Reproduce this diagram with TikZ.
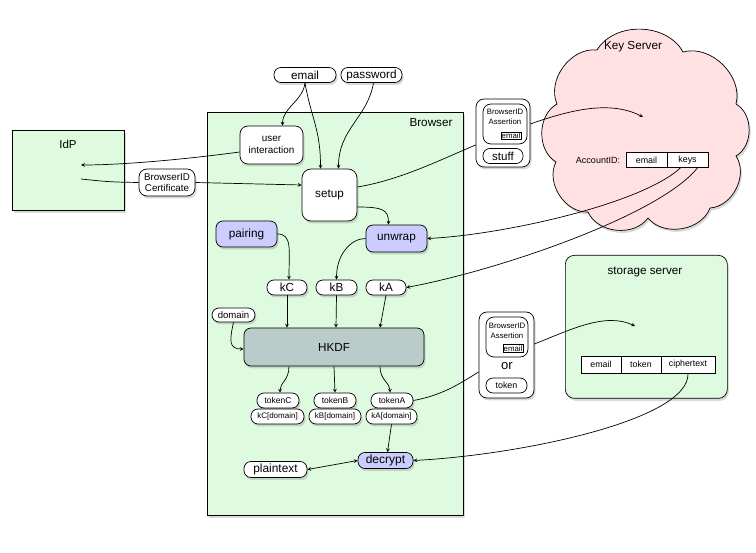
\documentclass[tikz,border=0pt]{standalone}
\usepackage{fontspec}
\setmainfont{Liberation Sans}
\usetikzlibrary{shadows}

\definecolor{zonegreen}{HTML}{DEFBE0}
\definecolor{keypink}{HTML}{FFE1E3}
\definecolor{oplav}{HTML}{CCCCFF}
\definecolor{hkdfgray}{HTML}{B9CCCA}

\newcommand\fsz[1]{\fontsize{#1}{#1}\selectfont}

\begin{document}
\begin{tikzpicture}[x=1pt, y=-1pt, >=stealth, line width=0.7pt,
    shade/.style={drop shadow={opacity=0.3, shadow xshift=1.5pt, shadow yshift=-2.5pt}},
    zone/.style={draw, fill=zonegreen, inner sep=0pt, anchor=north west, shade},
    pill/.style={draw, fill=white, rounded corners=7pt, minimum height=15pt, inner sep=0pt, shade},
    card/.style={draw, fill=white, rounded corners=8pt, inner sep=0pt, align=center, shade},
    op/.style={draw, fill=oplav, rounded corners=7pt, inner sep=0pt, shade},
    cell/.style={draw, fill=white, minimum height=15pt, inner sep=0pt},
    puff/.style={bend left=60}]
    \useasboundingbox (0,0) rectangle (756,553);

    % servers and browser
    \node[zone, minimum width=112pt, minimum height=80pt] (idp) at (12,130) {};
    \node[font=\fsz{11.5}] (idplbl) at (68,144) {IdP};
    \node[zone, minimum width=256pt, minimum height=403pt] (browser) at (207,112) {};
    \node[font=\fsz{11.7}] (browserlbl) at (431,123) {Browser};
    \node[zone, rounded corners=9pt, minimum width=162pt, minimum height=143pt] (storage) at (565,255) {};
    \node[font=\fsz{11.7}] (storagelbl) at (645,272) {storage server};

    % key server cloud
    \draw[fill=keypink, shade] (597,50) to[puff] (683,52) to[puff] (736,104) to[puff] (736,156)
        to[puff] (710,208) to[puff] (648,218) to[puff] (588,212) to[puff] (556,162)
        to[puff] (557,104) to[puff] (597,50) -- cycle;
    \node[font=\fsz{11.7}] (keylbl) at (633,47) {Key Server};

    % key server table
    \node[font=\fsz{9}] (acct) at (598,160) {AccountID:};
    \node[cell, minimum width=41pt, font=\fsz{8.9}] (ksemail) at (646.5,160) {email};
    \node[cell, minimum width=41pt, font=\fsz{8.9}] (kskeys) at (687.5,160) {keys};

    % storage table
    \node[cell, minimum width=40pt, minimum height=17pt, font=\fsz{8.8}] (stemail) at (601,364.5) {email};
    \node[cell, minimum width=40pt, minimum height=17pt, font=\fsz{8.8}] (sttoken) at (641,364.5) {token};
    \node[cell, minimum width=54pt, minimum height=17pt, font=\fsz{8.8}] (stcipher) at (688,364.5) {ciphertext};

    % inputs
    \node[pill, minimum width=62pt, font=\fsz{11.7}] (email) at (305,75) {email};
    \node[pill, minimum width=61pt, font=\fsz{11.7}] (password) at (371.5,75) {password};

    % browser steps
    \node[card, minimum width=63pt, minimum height=38pt, font=\fsz{9.9}] (userint) at (271.5,145) {user\\[1.5pt]interaction};
    \node[card, rounded corners=9pt, minimum width=55pt, minimum height=52pt, font=\fsz{11.7}] (setup) at (329.5,195) {setup};
    \node[op, minimum width=61pt, minimum height=26pt, font=\fsz{11.8}] (pairing) at (246.5,234) {pairing};
    \node[op, minimum width=61pt, minimum height=27pt, font=\fsz{11.8}] (unwrap) at (396.5,238.5) {unwrap};
    \node[pill, minimum width=40pt, font=\fsz{11.7}] (kC) at (287,287.5) {kC};
    \node[pill, minimum width=41pt, font=\fsz{11.7}] (kB) at (336.5,287.5) {kB};
    \node[pill, minimum width=40pt, font=\fsz{11.7}] (kA) at (386,287.5) {kA};
    \node[pill, minimum width=43pt, minimum height=14pt, font=\fsz{9.6}] (domain) at (233.5,315) {domain};
    \node[draw, fill=hkdfgray, rounded corners=7pt, minimum width=180pt, minimum height=38pt,
          font=\fsz{11.7}, shade] (hkdf) at (334,347) {HKDF};

    \node[pill, minimum width=42pt, font=\fsz{8.5}] (tokC) at (278,400.5) {tokenC};
    \node[pill, minimum width=53pt, font=\fsz{8}] (kCd) at (277.5,416.5) {kC[domain]};
    \node[pill, minimum width=42pt, font=\fsz{8.5}] (tokB) at (335,400.5) {tokenB};
    \node[pill, minimum width=52pt, font=\fsz{8}] (kBd) at (335,416.5) {kB[domain]};
    \node[pill, minimum width=42pt, font=\fsz{8.5}] (tokA) at (392,400.5) {tokenA};
    \node[pill, minimum width=51pt, font=\fsz{8}] (kAd) at (391.5,416.5) {kA[domain]};

    \node[op, minimum width=55pt, minimum height=16pt, font=\fsz{12}] (decrypt) at (385.5,460.5) {decrypt};
    \node[pill, minimum width=63pt, minimum height=16pt, font=\fsz{11.9}] (plain) at (275.5,469.5) {plaintext};

    % certificate
    \node[card, minimum width=56pt, minimum height=27pt, font=\fsz{9.8}] (cert) at (167,182.5) {BrowserID\\[1pt]Certificate};

    % assertion to key server
    \node[card, minimum width=54pt, minimum height=68pt] (stuffbox) at (503,133) {};
    \node[draw, fill=white, rounded corners=8pt, minimum width=44pt, minimum height=40pt] (assert1) at (505,124) {};
    \node[font=\fsz{7.8}, align=center] (assert1lbl) at (505,117) {BrowserID\\[1.5pt]Assertion};
    \node[draw, inner sep=0.8pt, font=\fsz{7.8}] (assert1mail) at (511,136) {email};
    \node[draw, fill=white, rounded corners=7pt, minimum width=40pt, minimum height=14pt, font=\fsz{11.5}] (stuff) at (503,156) {stuff};

    % assertion or token to storage server
    \node[card, minimum width=55pt, minimum height=86pt] (orbox) at (506.5,355) {};
    \node[draw, fill=white, rounded corners=8pt, minimum width=42pt, minimum height=40pt] (assert2) at (507,337) {};
    \node[font=\fsz{7.8}, align=center] (assert2lbl) at (507,331) {BrowserID\\[1.5pt]Assertion};
    \node[draw, inner sep=0.8pt, font=\fsz{7.8}] (assert2mail) at (513,348.5) {email};
    \node[font=\fsz{13}] (orlbl) at (507,366.5) {or};
    \node[draw, fill=white, rounded corners=7pt, minimum width=41pt, minimum height=15pt, font=\fsz{8.9}] (token) at (506.5,385.5) {token};

    % free ends inside the servers
    \coordinate (idpin) at (81,165);
    \coordinate (idpout) at (81,179);
    \coordinate (ksin) at (643,117);
    \coordinate (stin) at (635,326);

    % connectors
    \draw[->] (email.south) .. controls +(-2,18) and +(0,-18) .. ([xshift=11pt]userint.north);
    \draw[->] (email.south) .. controls +(6,35) and +(0,-40) .. ([xshift=-9pt]setup.north);
    \draw[->] ([xshift=2pt]password.south) .. controls +(-6,35) and +(0,-40) .. ([xshift=9pt]setup.north);
    \draw[->] ([yshift=-7pt]userint.west) .. controls (180,160) and (120,165) .. (idpin);
    \draw (idpout) .. controls (110,182) .. (cert.west);
    \draw[->] (cert.east) -- ([yshift=10pt]setup.west);
    \draw ([yshift=8pt]setup.east) .. controls (400,180) and (440,160) .. ([yshift=-12pt]stuffbox.west);
    \draw[->] ([yshift=9pt]stuffbox.east) .. controls (570,110) and (610,100) .. (ksin);
    \draw[->] ([yshift=-12pt]setup.east) .. controls +(25,0) and +(0,-15) .. ([xshift=-8pt]unwrap.north);
    \draw[->] ([xshift=-7pt]kskeys.south) .. controls (640,205) and (500,235) .. (unwrap.east);
    \draw[->] ([xshift=10pt]kskeys.south) .. controls (660,215) and (500,270) .. (kA.east);
    \draw[->] (pairing.east) .. controls +(15,0) and +(0,-30) .. ([xshift=2pt]kC.north);
    \draw[->] (unwrap.west) .. controls +(-15,0) and +(0,-25) .. (kB.north);
    \draw[->] (kC.south) -- (kC.south |- hkdf.north);
    \draw[->] (kB.south) -- ([xshift=2pt]hkdf.north);
    \draw[->] (kA.south) -- ([xshift=46pt]hkdf.north);
    \draw[->] (domain.south) .. controls +(-4,18) and +(-15,0) .. ([yshift=-2pt]hkdf.west);
    \draw[->] ([xshift=-45pt]hkdf.south) .. controls +(0,14) and +(0,-10) .. ([xshift=2pt]tokC.north);
    \draw[->] ([xshift=0pt]hkdf.south) -- (tokB.north);
    \draw[->] ([xshift=46pt]hkdf.south) .. controls +(0,14) and +(0,-10) .. ([xshift=-2pt]tokA.north);
    \draw[->] (kAd.south) -- ([xshift=2pt]decrypt.north);
    \draw[<->] (plain.east) -- (decrypt.west);
    \draw[->] (stcipher.south) .. controls (690,420) and (520,455) .. (decrypt.east);
    \draw (tokA.east) .. controls (445,395) and (465,380) .. ([yshift=-17pt]orbox.west);
    \draw[->] ([yshift=11pt]orbox.east) .. controls (570,330) and (605,312) .. (stin);
\end{tikzpicture}
\end{document}
